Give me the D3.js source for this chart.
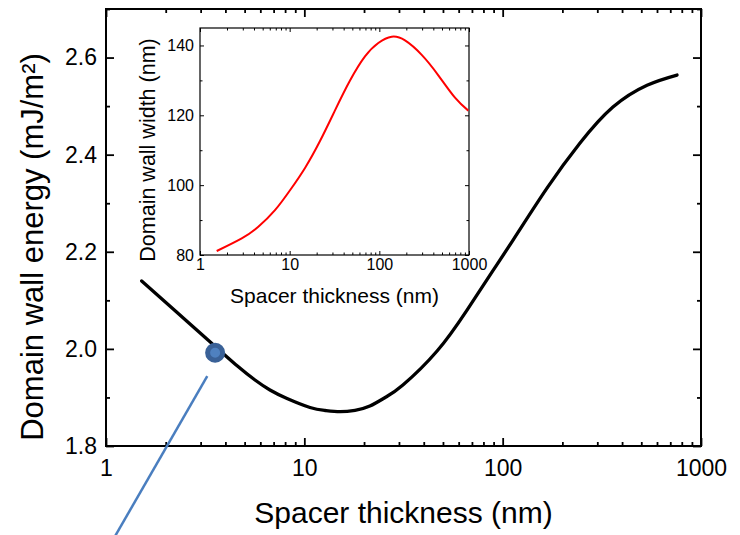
<!DOCTYPE html>
<meta charset="utf-8">
<style>
body { margin: 0; background: #fff; }
svg { font-family: "Liberation Sans", Arial, sans-serif; }
.axis path { display: none; }
.axis line { stroke: #000; }
.main .axis line { stroke-width: 1.8px; }
.inset .axis line { stroke-width: 1px; }
.main .lbl text { font-size: 23px; fill: #000; }
.inset .lbl text { font-size: 16px; fill: #000; }
</style>
<body>
<script src="https://d3js.org/d3.v7.min.js"></script>
<script>

// main curve: domain wall energy vs spacer thickness
var thick = [1.513, 2.254, 3.41, 4.60, 5.64, 6.71, 8.18, 10.68, 12.72, 15.13, 18.01, 21.4, 25.8, 31.4, 46.7, 66.1, 86.3, 112.8, 167.3, 245.5, 359.7, 534.6, 756.8];
var energy = [2.140, 2.077, 2.0115, 1.9647, 1.9359, 1.9153, 1.8978, 1.8793, 1.8731, 1.8706, 1.8735, 1.8824, 1.9009, 1.9256, 1.9956, 2.080, 2.152, 2.224, 2.331, 2.424, 2.498, 2.543, 2.564];

// inset curve: domain wall width vs spacer thickness
var insetThick = [1.535, 2.92, 4.47, 6.86, 10.09, 14.83, 21.79, 32.03, 47.1, 69.2, 97.4, 137.4, 193.3, 296.9, 454.6, 698, 982];
var wallWidth = [81.14, 84.76, 88.07, 92.83, 98.53, 104.94, 112.64, 121.41, 129.96, 136.87, 140.72, 142.49, 141.43, 137.30, 131.46, 125.04, 121.34];

// highlighted point and the pointer line (data coords)
var marker = {t: 3.55, e: 1.992};
var pointer = [{t: 3.24, e: 1.944}, {t: 1.085, e: 1.607}];

// tick values
var xMajor = [1, 10, 100, 1000];
var xMinor = [2,3,4,5,6,7,8,9,20,30,40,50,60,70,80,90,200,300,400,500,600,700,800,900];
var yMajor = [1.8, 2.0, 2.2, 2.4, 2.6];
var yMinor = [1.9, 2.1, 2.3, 2.5, 2.7];
var insetYMajor = [80, 100, 120, 140];
var insetYMinor = [90, 110, 130];

var W = 740, H = 535;
var svg = d3.select("body").append("svg").attr("width", W).attr("height", H);

// ---- main plot
var m = {left: 106, right: 701, top: 9, bottom: 446};
var x = d3.scaleLog().domain([1, 1000]).range([m.left, m.right]);
var y = d3.scaleLinear().domain([1.8, 2.7]).range([m.bottom, m.top]);

var g = svg.append("g").attr("class", "main");

function ticks(sel, axisFn, scale, vals, len, pos) {
  sel.append("g").attr("class", "axis")
    .attr("transform", pos)
    .call(axisFn(scale).tickValues(vals).tickSize(-len).tickFormat(""));
}

ticks(g, d3.axisBottom, x, xMinor, 4, "translate(0," + m.bottom + ")");
ticks(g, d3.axisBottom, x, xMajor, 8, "translate(0," + m.bottom + ")");
ticks(g, d3.axisTop, x, xMinor, 4, "translate(0," + m.top + ")");
ticks(g, d3.axisTop, x, xMajor, 8, "translate(0," + m.top + ")");
ticks(g, d3.axisLeft, y, yMinor, 4, "translate(" + m.left + ",0)");
ticks(g, d3.axisLeft, y, yMajor, 8, "translate(" + m.left + ",0)");
ticks(g, d3.axisRight, y, yMinor, 4, "translate(" + m.right + ",0)");
ticks(g, d3.axisRight, y, yMajor, 8, "translate(" + m.right + ",0)");

// tick labels
g.append("g").attr("class", "lbl")
  .attr("transform", "translate(0," + m.bottom + ")")
  .call(d3.axisBottom(x).tickValues(xMajor).tickSize(0).tickPadding(14).tickFormat(d3.format("d")))
  .call(function(a) { a.select(".domain").remove(); });
g.append("g").attr("class", "lbl")
  .attr("transform", "translate(" + m.left + ",0)")
  .call(d3.axisLeft(y).tickValues(yMajor).tickSize(0).tickPadding(9).tickFormat(d3.format(".1f")))
  .call(function(a) { a.select(".domain").remove(); });

g.append("rect")
  .attr("x", m.left).attr("y", m.top)
  .attr("width", m.right - m.left).attr("height", m.bottom - m.top)
  .attr("fill", "none").attr("stroke", "#000").attr("stroke-width", 2);

var mainData = thick.map(function(t, i) { return {t: t, v: energy[i]}; });
g.append("path")
  .datum(mainData)
  .attr("fill", "none").attr("stroke", "#000").attr("stroke-width", 3.3)
  .attr("stroke-linecap", "round")
  .attr("d", d3.line().curve(d3.curveNatural)
    .x(function(d) { return x(d.t); })
    .y(function(d) { return y(d.v); }));

// pointer line
svg.append("path")
  .datum(pointer)
  .attr("fill", "none").attr("stroke", "#4a7ebf").attr("stroke-width", 2.5)
  .attr("d", d3.line().x(function(d) { return x(d.t); }).y(function(d) { return y(d.e); }));

g.append("circle")
  .attr("cx", x(marker.t)).attr("cy", y(marker.e)).attr("r", 7.5)
  .attr("fill", "#4f81c0").attr("stroke", "#3a6197").attr("stroke-width", 5);

// axis titles
svg.append("text")
  .attr("x", (m.left + m.right) / 2).attr("y", 523)
  .attr("text-anchor", "middle").attr("font-size", 30)
  .text("Spacer thickness (nm)");
svg.append("text")
  .attr("transform", "translate(43,247) rotate(-90)")
  .attr("text-anchor", "middle").attr("font-size", 31)
  .text("Domain wall energy (mJ/m²)");

// ---- inset
var im = {left: 200, right: 469, top: 28, bottom: 255};
var ix = d3.scaleLog().domain([1, 1000]).range([im.left, im.right]);
var iy = d3.scaleLinear().domain([80, 145]).range([im.bottom, im.top]);

var ig = svg.append("g").attr("class", "inset");
ig.append("rect")
  .attr("x", im.left).attr("y", im.top)
  .attr("width", im.right - im.left).attr("height", im.bottom - im.top)
  .attr("fill", "#fff").attr("stroke", "#000").attr("stroke-width", 1.2);

ticks(ig, d3.axisBottom, ix, xMinor, 2.5, "translate(0," + im.bottom + ")");
ticks(ig, d3.axisBottom, ix, xMajor, 4, "translate(0," + im.bottom + ")");
ticks(ig, d3.axisTop, ix, xMinor, 2.5, "translate(0," + im.top + ")");
ticks(ig, d3.axisTop, ix, xMajor, 4, "translate(0," + im.top + ")");
ticks(ig, d3.axisLeft, iy, insetYMinor, 2.5, "translate(" + im.left + ",0)");
ticks(ig, d3.axisLeft, iy, insetYMajor, 4, "translate(" + im.left + ",0)");
ticks(ig, d3.axisRight, iy, insetYMinor, 2.5, "translate(" + im.right + ",0)");
ticks(ig, d3.axisRight, iy, insetYMajor, 4, "translate(" + im.right + ",0)");

ig.append("g").attr("class", "lbl")
  .attr("transform", "translate(0," + im.bottom + ")")
  .call(d3.axisBottom(ix).tickValues(xMajor).tickSize(0).tickPadding(4).tickFormat(d3.format("d")))
  .call(function(a) { a.select(".domain").remove(); });
ig.append("g").attr("class", "lbl")
  .attr("transform", "translate(" + im.left + ",0)")
  .call(d3.axisLeft(iy).tickValues(insetYMajor).tickSize(0).tickPadding(6).tickFormat(d3.format("d")))
  .call(function(a) { a.select(".domain").remove(); });

var insetData = insetThick.map(function(t, i) { return {t: t, v: wallWidth[i]}; });
ig.append("path")
  .datum(insetData)
  .attr("fill", "none").attr("stroke", "#ff0000").attr("stroke-width", 2)
  .attr("d", d3.line().curve(d3.curveNatural)
    .x(function(d) { return ix(d.t); })
    .y(function(d) { return iy(d.v); }));

ig.append("text")
  .attr("x", (im.left + im.right) / 2).attr("y", 303)
  .attr("text-anchor", "middle").attr("font-size", 21)
  .text("Spacer thickness (nm)");
ig.append("text")
  .attr("transform", "translate(155,150) rotate(-90)")
  .attr("text-anchor", "middle").attr("font-size", 21.5)
  .text("Domain wall width (nm)");

</script>
</body>
